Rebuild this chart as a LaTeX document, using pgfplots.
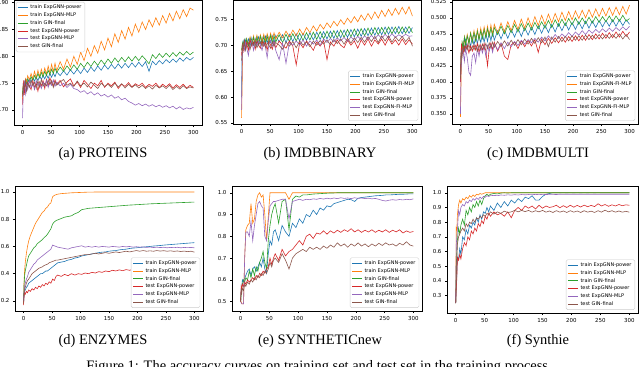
\documentclass[border=0pt]{standalone}
\usepackage{fontspec}
\setmainfont{Liberation Serif}
\newfontfamily\tk{DejaVu Sans}
\usepackage{pgfplots}
\usepackage{pgfplotstable}
\pgfplotsset{compat=1.18}

\definecolor{mplBlue}{HTML}{1F77B4}
\definecolor{mplOrange}{HTML}{FF7F0E}
\definecolor{mplGreen}{HTML}{2CA02C}
\definecolor{mplRed}{HTML}{D62728}
\definecolor{mplPurple}{HTML}{9467BD}
\definecolor{mplBrown}{HTML}{8C564B}

% columns: train power, train mlp, train gin, test power, test mlp, test gin
\pgfplotstableread{
x tp tm tg vp vm vg
0 .728 .720 .730 .710 .685 .725
1 .745 .748 .742 .735 .725 .730
2 .738 .752 .748 .755 .740 .745
3 .752 .742 .744 .728 .755 .740
5 .748 .758 .754 .750 .730 .755
7 .756 .752 .748 .740 .748 .735
9 .750 .764 .758 .752 .738 .750
12 .758 .756 .752 .745 .755 .742
15 .752 .768 .762 .738 .742 .755
18 .760 .758 .755 .755 .750 .745
21 .754 .772 .764 .742 .738 .752
24 .761 .760 .758 .750 .755 .740
27 .755 .774 .768 .735 .745 .755
30 .763 .762 .760 .752 .750 .742
33 .757 .776 .770 .745 .740 .757
36 .764 .765 .762 .755 .752 .744
39 .758 .778 .772 .740 .745 .750
42 .766 .767 .764 .757 .755 .745
45 .759 .782 .774 .745 .742 .756
48 .768 .769 .766 .760 .753 .747
51 .761 .785 .776 .750 .746 .755
54 .769 .771 .768 .745 .756 .742
57 .762 .787 .778 .756 .744 .753
60 .771 .773 .770 .748 .752 .746
66 .764 .790 .780 .755 .745 .752
72 .773 .776 .772 .743 .750 .757
78 .765 .795 .782 .752 .742 .746
84 .775 .780 .774 .758 .748 .750
90 .767 .800 .784 .745 .740 .744
96 .776 .785 .776 .752 .738 .754
102 .768 .808 .787 .742 .733 .745
108 .778 .792 .779 .755 .736 .750
114 .770 .815 .789 .748 .730 .743
120 .780 .800 .781 .740 .734 .752
126 .772 .820 .791 .750 .728 .746
132 .782 .806 .783 .745 .732 .740
138 .774 .828 .793 .755 .726 .750
144 .784 .812 .785 .742 .729 .744
150 .776 .834 .795 .750 .724 .748
156 .785 .818 .787 .745 .728 .742
162 .777 .842 .797 .752 .722 .750
168 .786 .826 .789 .740 .725 .743
174 .778 .848 .798 .748 .719 .749
180 .787 .832 .790 .744 .722 .741
186 .779 .854 .799 .751 .716 .748
192 .788 .838 .791 .743 .713 .742
198 .780 .860 .800 .749 .709 .747
204 .789 .845 .792 .745 .712 .741
210 .781 .864 .801 .750 .708 .746
216 .790 .850 .794 .742 .711 .740
222 .772 .868 .786 .748 .707 .745
228 .791 .855 .803 .744 .710 .739
234 .784 .872 .796 .750 .706 .746
240 .792 .858 .805 .742 .709 .741
246 .786 .876 .798 .748 .705 .745
252 .794 .862 .806 .743 .708 .740
258 .788 .880 .799 .749 .704 .746
264 .795 .866 .807 .741 .707 .738
270 .789 .884 .800 .747 .702 .744
276 .797 .870 .808 .742 .706 .739
282 .791 .887 .802 .748 .701 .745
288 .798 .874 .809 .741 .704 .740
294 .793 .890 .803 .746 .702 .743
300 .798 .886 .808 .742 .705 .741
}\tProteins

\pgfplotstableread{
x tp tm tg vp vm vg
0 .600 .560 .690 .680 .575 .670
1 .690 .620 .700 .695 .660 .680
2 .700 .690 .705 .700 .695 .700
3 .708 .700 .694 .690 .700 .695
5 .698 .708 .710 .708 .690 .705
7 .710 .696 .696 .695 .705 .690
9 .700 .712 .712 .705 .695 .700
12 .712 .700 .698 .690 .680 .705
15 .698 .716 .713 .710 .702 .692
18 .714 .702 .700 .698 .708 .705
21 .700 .718 .715 .706 .690 .700
24 .713 .704 .698 .692 .705 .708
27 .702 .719 .716 .708 .698 .695
30 .716 .705 .700 .700 .708 .702
33 .703 .720 .717 .694 .700 .706
36 .715 .706 .702 .708 .690 .698
39 .700 .721 .716 .698 .705 .707
42 .717 .708 .703 .705 .695 .696
45 .704 .722 .718 .690 .676 .704
48 .716 .709 .701 .708 .702 .700
51 .705 .723 .719 .700 .709 .694
54 .718 .711 .704 .692 .698 .706
57 .703 .724 .718 .707 .705 .698
60 .719 .712 .706 .695 .690 .705
66 .706 .725 .720 .708 .672 .700
72 .720 .714 .705 .700 .704 .692
78 .705 .727 .721 .694 .665 .706
84 .721 .716 .707 .708 .705 .698
90 .707 .729 .722 .698 .700 .707
96 .722 .718 .708 .662 .708 .695
102 .708 .731 .723 .705 .700 .708
108 .723 .720 .709 .695 .710 .700
114 .709 .734 .724 .708 .698 .706
120 .724 .724 .710 .700 .708 .697
126 .710 .737 .725 .690 .702 .708
132 .725 .727 .711 .706 .710 .700
138 .711 .740 .726 .698 .700 .709
144 .726 .731 .712 .708 .712 .702
150 .712 .743 .727 .672 .705 .710
156 .727 .734 .713 .706 .713 .700
162 .713 .746 .728 .698 .706 .711
168 .728 .737 .714 .710 .714 .703
174 .714 .749 .729 .700 .708 .712
180 .729 .740 .715 .695 .715 .702
186 .715 .752 .730 .710 .707 .713
192 .730 .743 .716 .700 .716 .704
198 .716 .755 .731 .708 .709 .714
204 .731 .745 .717 .694 .717 .705
210 .717 .758 .732 .710 .710 .715
216 .732 .748 .718 .700 .718 .706
222 .718 .761 .733 .712 .711 .716
228 .733 .750 .719 .698 .719 .707
234 .719 .764 .734 .710 .712 .717
240 .734 .752 .720 .702 .720 .705
246 .720 .767 .734 .712 .713 .718
252 .735 .755 .721 .700 .721 .708
258 .721 .769 .735 .713 .714 .718
264 .735 .757 .722 .702 .722 .706
270 .722 .771 .735 .710 .715 .716
276 .736 .759 .722 .700 .720 .708
282 .722 .773 .735 .712 .716 .717
288 .735 .760 .723 .701 .721 .707
294 .723 .774 .736 .710 .717 .715
300 .734 .756 .724 .702 .718 .698
}\tBinary

\pgfplotstableread{
x tp tm tg vp vm vg
0 .410 .345 .400 .400 .350 .405
1 .440 .400 .440 .445 .420 .430
2 .455 .440 .450 .460 .430 .445
3 .445 .460 .462 .450 .450 .440
5 .462 .450 .452 .445 .445 .455
7 .450 .470 .470 .455 .432 .448
9 .466 .456 .458 .448 .452 .456
12 .452 .474 .472 .458 .438 .450
15 .468 .460 .460 .445 .415 .458
18 .455 .477 .476 .456 .410 .449
21 .470 .463 .462 .448 .440 .456
24 .457 .480 .477 .458 .445 .450
27 .472 .465 .464 .450 .430 .457
30 .459 .482 .479 .460 .452 .448
33 .474 .467 .466 .446 .440 .458
36 .461 .484 .480 .458 .455 .450
39 .475 .469 .468 .450 .445 .459
42 .462 .486 .482 .460 .456 .451
45 .476 .471 .469 .448 .440 .460
48 .463 .487 .483 .425 .457 .452
51 .477 .472 .471 .452 .448 .461
54 .464 .489 .484 .461 .458 .453
57 .478 .474 .472 .450 .446 .462
60 .465 .490 .485 .462 .459 .454
66 .480 .476 .474 .448 .450 .463
72 .467 .492 .487 .460 .461 .455
78 .481 .478 .475 .440 .452 .464
84 .468 .494 .488 .435 .462 .456
90 .482 .480 .477 .458 .455 .465
96 .470 .496 .490 .462 .463 .457
102 .484 .482 .478 .452 .457 .466
108 .471 .498 .491 .464 .465 .458
114 .485 .484 .480 .455 .459 .467
120 .473 .500 .492 .465 .466 .459
126 .486 .486 .481 .456 .461 .468
132 .474 .502 .493 .466 .468 .460
138 .488 .488 .483 .446 .462 .469
144 .476 .504 .494 .467 .470 .461
150 .489 .490 .484 .458 .464 .470
156 .477 .506 .496 .468 .472 .455
162 .490 .492 .485 .460 .466 .470
168 .478 .507 .497 .469 .474 .462
174 .491 .494 .487 .461 .468 .471
180 .480 .509 .498 .470 .475 .463
186 .492 .496 .488 .462 .470 .471
192 .481 .510 .499 .471 .477 .464
198 .493 .497 .489 .463 .471 .472
204 .482 .511 .500 .472 .478 .465
210 .494 .499 .490 .464 .473 .472
216 .483 .512 .500 .473 .480 .465
222 .495 .500 .491 .465 .474 .473
228 .484 .513 .501 .474 .481 .466
234 .495 .501 .492 .466 .476 .473
240 .485 .514 .502 .475 .482 .467
246 .496 .502 .493 .467 .477 .474
252 .486 .515 .502 .476 .483 .467
258 .496 .503 .494 .468 .478 .474
264 .487 .516 .503 .477 .484 .468
270 .497 .504 .494 .469 .479 .474
276 .487 .517 .503 .478 .485 .468
282 .497 .505 .495 .470 .480 .475
288 .488 .518 .504 .479 .486 .467
294 .497 .506 .495 .471 .481 .474
300 .490 .520 .499 .478 .487 .466
}\tMulti

\pgfplotstableread{
x tp tm tg vp vm vg
0 .180 .180 .200 .170 .200 .180
1 .250 .350 .330 .240 .280 .260
2 .270 .430 .390 .260 .310 .290
3 .280 .480 .420 .250 .330 .300
5 .300 .550 .460 .270 .360 .330
7 .310 .600 .500 .260 .380 .350
9 .330 .640 .530 .280 .410 .360
12 .340 .680 .550 .270 .430 .380
15 .350 .710 .570 .290 .450 .400
18 .360 .740 .590 .280 .470 .410
21 .370 .770 .600 .300 .480 .420
24 .380 .790 .620 .290 .500 .430
27 .390 .810 .630 .310 .510 .440
30 .400 .830 .640 .300 .520 .445
33 .400 .850 .650 .320 .530 .450
36 .410 .860 .665 .310 .540 .460
39 .420 .880 .675 .330 .550 .465
42 .420 .890 .690 .320 .560 .470
45 .430 .910 .710 .340 .570 .480
48 .440 .920 .730 .330 .580 .485
51 .450 .965 .765 .360 .610 .490
54 .460 .975 .780 .350 .605 .495
57 .470 .980 .790 .380 .600 .500
60 .480 .984 .795 .390 .595 .500
66 .485 .988 .805 .380 .590 .505
72 .490 .990 .815 .395 .585 .510
78 .500 .992 .820 .385 .580 .515
84 .505 .994 .825 .400 .590 .520
90 .515 .995 .840 .390 .595 .525
96 .520 .996 .850 .400 .600 .530
102 .530 .997 .870 .395 .605 .535
108 .535 .998 .875 .405 .595 .540
114 .540 .999 .880 .400 .600 .540
120 .545 .999 .882 .410 .595 .545
126 .550 1.000 .884 .405 .600 .550
132 .555 1.000 .886 .415 .595 .545
138 .558 1.000 .888 .410 .600 .550
144 .560 1.000 .890 .420 .598 .555
150 .565 1.000 .892 .415 .595 .550
156 .568 1.000 .894 .425 .600 .555
162 .570 1.000 .896 .420 .598 .560
168 .575 1.000 .898 .428 .595 .555
174 .578 1.000 .900 .422 .600 .560
180 .580 1.000 .902 .430 .597 .565
186 .585 1.000 .904 .425 .600 .560
192 .588 1.000 .905 .432 .595 .565
198 .590 1.000 .907 .428 .598 .570
204 .593 1.000 .908 .435 .595 .565
210 .595 1.000 .910 .430 .597 .570
216 .598 1.000 .911 .437 .593 .565
222 .600 1.000 .913 .432 .596 .568
228 .603 1.000 .914 .438 .592 .565
234 .605 1.000 .915 .434 .595 .570
240 .607 1.000 .916 .440 .592 .566
246 .610 1.000 .917 .436 .594 .569
252 .612 1.000 .918 .442 .590 .565
258 .614 1.000 .919 .438 .593 .568
264 .616 1.000 .920 .443 .591 .564
270 .618 1.000 .921 .440 .594 .567
276 .620 1.000 .922 .445 .590 .563
282 .622 1.000 .923 .441 .593 .566
288 .624 1.000 .924 .446 .591 .562
294 .626 1.000 .925 .443 .593 .565
300 .628 1.000 .926 .447 .590 .558
}\tEnzymes

\pgfplotstableread{
x tp tm tg vp vm vg
0 .500 .500 .500 .500 .500 .500
1 .560 .500 .540 .570 .495 .560
2 .570 .490 .560 .560 .490 .540
3 .600 .490 .580 .580 .490 .560
5 .590 .490 .600 .570 .490 .550
7 .610 .700 .590 .590 .700 .580
9 .620 .830 .610 .580 .820 .570
12 .640 .850 .600 .600 .820 .590
15 .650 .860 .640 .590 .800 .580
18 .620 .950 .610 .600 .870 .600
21 .650 .860 .650 .610 .780 .590
24 .660 .880 .620 .600 .850 .610
27 .640 .960 .660 .620 .900 .600
30 .660 .990 .640 .610 .950 .620
33 .680 1.000 .680 .630 .960 .610
36 .660 .980 .700 .620 .940 .630
39 .700 .990 .730 .640 .930 .620
42 .650 .900 .680 .630 .800 .640
45 .630 .780 .650 .650 .780 .630
48 .720 .890 .780 .660 .870 .650
51 .780 1.000 .850 .700 .940 .680
54 .760 1.000 .900 .670 .950 .660
57 .820 1.000 .930 .700 .960 .690
60 .830 1.000 .950 .720 .960 .700
66 .780 1.000 .860 .690 .965 .680
72 .850 1.000 .960 .740 .970 .720
78 .820 1.000 .970 .710 .970 .690
84 .800 .970 .830 .730 .880 .650
90 .860 1.000 .970 .740 .960 .700
96 .840 1.000 .985 .760 .965 .720
102 .880 1.000 .980 .780 .970 .730
108 .860 1.000 .990 .760 .965 .740
114 .900 1.000 .990 .800 .970 .730
120 .890 1.000 .992 .810 .968 .750
126 .920 1.000 .994 .790 .972 .740
132 .900 1.000 .995 .815 .970 .750
138 .930 1.000 .996 .810 .974 .740
144 .920 1.000 .997 .825 .971 .755
150 .940 1.000 .998 .810 .975 .745
156 .935 1.000 .999 .825 .972 .760
162 .950 1.000 .999 .815 .976 .750
168 .955 1.000 1.000 .828 .973 .770
174 .960 1.000 1.000 .818 .977 .755
180 .965 1.000 1.000 .830 .974 .765
186 .970 1.000 1.000 .822 .976 .750
192 .968 1.000 1.000 .835 .973 .765
198 .960 1.000 1.000 .820 .977 .755
204 .975 1.000 1.000 .830 .974 .770
210 .978 1.000 1.000 .818 .976 .755
216 .980 1.000 1.000 .828 .973 .765
222 .982 1.000 1.000 .820 .975 .752
228 .984 1.000 1.000 .830 .972 .765
234 .986 1.000 1.000 .818 .974 .755
240 .987 1.000 1.000 .828 .970 .768
246 .988 1.000 1.000 .820 .965 .758
252 .990 1.000 1.000 .830 .962 .770
258 .990 1.000 1.000 .818 .966 .760
264 .991 1.000 1.000 .828 .968 .765
270 .992 1.000 1.000 .820 .966 .755
276 .993 1.000 1.000 .830 .969 .768
282 .993 1.000 1.000 .815 .967 .760
288 .994 1.000 1.000 .825 .970 .775
294 .995 1.000 1.000 .818 .968 .760
300 .995 1.000 1.000 .822 .972 .755
}\tSynNew

\pgfplotstableread{
x tp tm tg vp vm vg
0 .250 .250 .250 .250 .250 .250
1 .350 .760 .500 .350 .650 .400
2 .450 .750 .600 .420 .700 .550
3 .560 .850 .680 .560 .750 .650
5 .550 .920 .760 .540 .880 .700
7 .620 .950 .720 .580 .850 .720
9 .580 .930 .780 .550 .900 .740
12 .700 .960 .820 .620 .920 .760
15 .680 .950 .780 .660 .910 .740
18 .750 .970 .880 .640 .940 .790
21 .720 .960 .850 .700 .930 .770
24 .780 .980 .900 .680 .950 .800
27 .760 .970 .870 .740 .940 .790
30 .800 .985 .920 .720 .960 .820
33 .780 .975 .900 .760 .950 .800
36 .830 .990 .940 .740 .965 .830
39 .800 .985 .910 .790 .955 .820
42 .850 .995 .950 .770 .970 .840
45 .820 .990 .920 .810 .960 .830
48 .870 .995 .960 .790 .975 .850
51 .860 1.000 .980 .840 .970 .840
54 .900 1.000 .990 .820 .980 .860
57 .870 1.000 .980 .860 .975 .850
60 .910 1.000 .990 .840 .980 .870
66 .880 1.000 .995 .870 .982 .855
72 .930 1.000 .992 .850 .980 .870
78 .900 1.000 .998 .860 .985 .860
84 .940 1.000 1.000 .840 .983 .875
90 .910 1.000 .998 .870 .986 .865
96 .950 1.000 1.000 .830 .984 .870
102 .930 1.000 1.000 .880 .987 .880
108 .960 1.000 1.000 .900 .985 .870
114 .940 1.000 1.000 .880 .988 .880
120 .970 1.000 1.000 .910 .986 .872
126 .960 1.000 1.000 .895 .988 .880
132 .980 1.000 1.000 .910 .987 .868
138 .950 1.000 1.000 .890 .989 .878
144 .950 1.000 1.000 .915 .987 .870
150 .975 1.000 1.000 .895 .989 .880
156 .990 1.000 1.000 .910 .988 .868
162 .995 1.000 1.000 .900 .989 .876
168 1.000 1.000 1.000 .905 .989 .866
174 1.000 1.000 1.000 .915 .988 .878
180 1.000 1.000 1.000 .898 .990 .868
186 1.000 1.000 1.000 .912 .989 .876
192 1.000 1.000 1.000 .900 .990 .866
198 1.000 1.000 1.000 .915 .989 .878
204 1.000 1.000 1.000 .902 .990 .868
210 1.000 1.000 1.000 .914 .989 .876
216 1.000 1.000 1.000 .903 .990 .866
222 1.000 1.000 1.000 .916 .989 .878
228 1.000 1.000 1.000 .905 .990 .868
234 1.000 1.000 1.000 .914 .989 .875
240 1.000 1.000 1.000 .906 .990 .866
246 1.000 1.000 1.000 .925 .989 .878
252 1.000 1.000 1.000 .910 .990 .868
258 1.000 1.000 1.000 .920 .990 .882
264 1.000 1.000 1.000 .908 .990 .870
270 1.000 1.000 1.000 .918 .990 .878
276 1.000 1.000 1.000 .910 .990 .868
282 1.000 1.000 1.000 .920 .990 .876
288 1.000 1.000 1.000 .912 .990 .868
294 1.000 1.000 1.000 .918 .990 .874
300 1.000 1.000 1.000 .915 .990 .868
}\tSynthie

\pgfplotsset{acc/.style={scale only axis, anchor=north west,
  xmin=-15, xmax=315, xtick={0,50,...,300},
  tick pos=left, tick align=outside, major tick length=2bp,
  tick style={line width=0.4bp, black}, axis line style={line width=0.5bp},
  tick label style={font=\tk\fontsize{5.5}{6}\selectfont},
  /pgf/number format/assume math mode=true, scaled ticks=false,
  yticklabel style={/pgf/number format/.cd, fixed, fixed zerofill, precision=#1},
  legend cell align=left,
  legend image code/.code={\draw[##1, line width=0.9bp] (0bp,0bp) -- (10bp,0bp);},
  legend style={font=\tk\fontsize{5}{6}\selectfont, draw=black!20,
    rounded corners=1.5bp, inner xsep=1.5bp, inner ysep=1bp, row sep=-1.5bp},
  every axis plot/.append style={line width=0.6bp}}}

\newcommand{\curves}[1]{%
  \addplot[mplBlue] table[x=x, y=tp] {#1};
  \addplot[mplOrange] table[x=x, y=tm] {#1};
  \addplot[mplGreen] table[x=x, y=tg] {#1};
  \addplot[mplRed] table[x=x, y=vp] {#1};
  \addplot[mplPurple] table[x=x, y=vm] {#1};
  \addplot[mplBrown] table[x=x, y=vg] {#1};}

\begin{document}
\begin{tikzpicture}
\useasboundingbox (0,0) rectangle (640bp,-367bp);
\clip (0,0) rectangle (640bp,-367bp);

\begin{axis}[acc=2, at={(14bp,0bp)}, width=188bp, height=125bp,
  ymin=0.672, ymax=0.905, ytick={0.70,0.75,0.80,0.85,0.90},
  legend style={at={(0.01,0.985)}, anchor=north west},
  legend entries={train ExpGNN-power, train ExpGNN-MLP, train GIN-final,
    test ExpGNN-power, test ExpGNN-MLP, test GIN-final}]
  \curves{\tProteins}
\end{axis}

\begin{axis}[acc=2, at={(233bp,0bp)}, width=188bp, height=124bp,
  ymin=0.548, ymax=0.787, ytick={0.55,0.60,0.65,0.70,0.75},
  legend style={at={(0.985,0.025)}, anchor=south east},
  legend entries={train ExpGNN-power, train ExpGNN-FI-MLP, train GIN-final,
    test ExpGNN-power, test ExpGNN-FI-MLP, test GIN-final}]
  \curves{\tBinary}
\end{axis}

\begin{axis}[acc=3, at={(452bp,0bp)}, width=186bp, height=124bp,
  ymin=0.334, ymax=0.528,
  ytick={0.350,0.375,0.400,0.425,0.450,0.475,0.500,0.525},
  legend style={at={(0.985,0.025)}, anchor=south east},
  legend entries={train ExpGNN-power, train ExpGNN-FI-MLP, train GIN-final,
    test ExpGNN-power, test ExpGNN-FI-MLP, test GIN-final}]
  \curves{\tMulti}
\end{axis}

\begin{axis}[acc=1, at={(15bp,-186bp)}, width=188bp, height=125bp,
  ymin=0.126, ymax=1.044, ytick={0.2,0.4,0.6,0.8,1.0},
  legend style={at={(0.985,0.025)}, anchor=south east},
  legend entries={train ExpGNN-power, train ExpGNN-MLP, train GIN-final,
    test ExpGNN-power, test ExpGNN-MLP, test GIN-final}]
  \curves{\tEnzymes}
\end{axis}

\begin{axis}[acc=1, at={(232bp,-186bp)}, width=190bp, height=125bp,
  ymin=0.457, ymax=1.031, ytick={0.5,0.6,0.7,0.8,0.9,1.0},
  legend style={at={(0.985,0.025)}, anchor=south east},
  legend entries={train ExpGNN-power, train ExpGNN-MLP, train GIN-final,
    test ExpGNN-power, test ExpGNN-MLP, test GIN-final}]
  \curves{\tSynNew}
\end{axis}

\begin{axis}[acc=1, at={(447bp,-186bp)}, width=191bp, height=127bp,
  ymin=0.182, ymax=1.046, ytick={0.3,0.4,0.5,0.6,0.7,0.8,0.9,1.0},
  legend style={at={(0.985,0.025)}, anchor=south east},
  legend entries={train ExpGNN-power, train ExpGNN-MLP, train GIN-final,
    test ExpGNN-power, test ExpGNN-MLP, test GIN-final}]
  \curves{\tSynthie}
\end{axis}

\begin{scope}[every node/.style={font=\fontsize{14.5}{17}\selectfont, anchor=base, inner sep=0}]
\node at (103bp,-157bp) {(a) PROTEINS};
\node at (320bp,-157bp) {(b) IMDBBINARY};
\node at (538bp,-157bp) {(c) IMDBMULTI};
\node at (103bp,-344bp) {(d) ENZYMES};
\node at (320bp,-344bp) {(e) SYNTHETICnew};
\node at (538bp,-344bp) {(f) Synthie};
\node at (319bp,-370bp) {Figure 1: The accuracy curves on training set and test set in the training process.};
\end{scope}
\end{tikzpicture}
\end{document}
